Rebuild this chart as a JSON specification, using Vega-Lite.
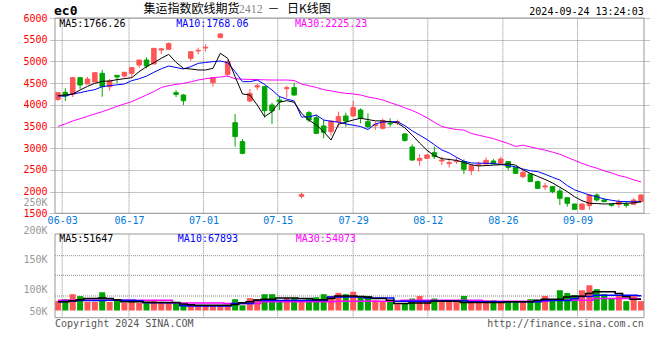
{
"$schema":"https://vega.github.io/schema/vega-lite/v6.json",
"width":599,"height":300,
"autosize":"none",
"padding":{"left":50,"top":18,"right":11,"bottom":42},
"background":"white",
"config":{"view":{"stroke":null},"axis":{"labelFont":"DejaVu Sans Mono","labelFontSize":10},"text":{"font":"DejaVu Sans Mono","fontSize":10,"baseline":"middle"}},
"datasets":{
"k":[
{"i":0,"d":"05-31","o":4126,"h":4290,"l":4088,"c":4279,"v":43000,"m5":4210,"m10":4203,"m30":3500,"vm5":40000,"vm10":40000,"vm30":47000},
{"i":1,"d":"06-03","o":4287,"h":4379,"l":4088,"c":4203,"v":52000,"m5":4226,"m10":4200,"m30":3560,"vm5":40000,"vm10":42000,"vm30":47000},
{"i":2,"d":"06-04","o":4241,"h":4640,"l":4180,"c":4625,"v":75000,"m5":4249,"m10":4250,"m30":3627,"vm5":45000,"vm10":44000,"vm30":47000},
{"i":3,"d":"06-05","o":4625,"h":4630,"l":4364,"c":4456,"v":66000,"m5":4341,"m10":4280,"m30":3680,"vm5":50000,"vm10":46000,"vm30":47000},
{"i":4,"d":"06-06","o":4479,"h":4640,"l":4479,"c":4594,"v":40000,"m5":4425,"m10":4318,"m30":3734,"vm5":55000,"vm10":46000,"vm30":47000},
{"i":5,"d":"06-07","o":4525,"h":4748,"l":4525,"c":4740,"v":40000,"m5":4495,"m10":4350,"m30":3790,"vm5":55000,"vm10":46000,"vm30":47000},
{"i":6,"d":"06-11","o":4725,"h":4802,"l":4187,"c":4418,"v":84000,"m5":4541,"m10":4418,"m30":3842,"vm5":58000,"vm10":46000,"vm30":47000},
{"i":7,"d":"06-12","o":4418,"h":4594,"l":4326,"c":4548,"v":40000,"m5":4548,"m10":4440,"m30":3900,"vm5":55000,"vm10":47000,"vm30":47000},
{"i":8,"d":"06-13","o":4679,"h":4679,"l":4495,"c":4640,"v":47000,"m5":4579,"m10":4460,"m30":3965,"vm5":50000,"vm10":47000,"vm30":47000},
{"i":9,"d":"06-14","o":4664,"h":4760,"l":4625,"c":4748,"v":35000,"m5":4602,"m10":4480,"m30":4020,"vm5":40000,"vm10":47000,"vm30":47000},
{"i":10,"d":"06-17","o":4725,"h":4856,"l":4625,"c":4856,"v":40000,"m5":4625,"m10":4556,"m30":4072,"vm5":40000,"vm10":47000,"vm30":47000},
{"i":11,"d":"06-18","o":4917,"h":5032,"l":4856,"c":5032,"v":35000,"m5":4763,"m10":4600,"m30":4150,"vm5":40000,"vm10":45000,"vm30":47000},
{"i":12,"d":"06-19","o":5032,"h":5094,"l":4840,"c":4894,"v":40000,"m5":4879,"m10":4660,"m30":4226,"vm5":38000,"vm10":36000,"vm30":47000},
{"i":13,"d":"06-20","o":4940,"h":5301,"l":4940,"c":5301,"v":47000,"m5":4971,"m10":4750,"m30":4303,"vm5":37000,"vm10":36000,"vm30":47000},
{"i":14,"d":"06-21","o":5262,"h":5302,"l":5170,"c":5290,"v":40000,"m5":5071,"m10":4830,"m30":4400,"vm5":37000,"vm10":36000,"vm30":47000},
{"i":15,"d":"06-24","o":5279,"h":5440,"l":5279,"c":5410,"v":35000,"m5":5163,"m10":4894,"m30":4440,"vm5":37000,"vm10":36000,"vm30":47000},
{"i":16,"d":"06-25","o":4279,"h":4340,"l":4180,"c":4240,"v":35000,"m5":4978,"m10":4860,"m30":4470,"vm5":37000,"vm10":36000,"vm30":35000},
{"i":17,"d":"06-26","o":4226,"h":4250,"l":3995,"c":4095,"v":29000,"m5":4840,"m10":4825,"m30":4495,"vm5":30000,"vm10":22000,"vm30":35000},
{"i":18,"d":"06-27","o":5071,"h":5224,"l":5010,"c":5224,"v":29000,"m5":4825,"m10":4880,"m30":4530,"vm5":26000,"vm10":21000,"vm30":35000},
{"i":19,"d":"06-28","o":5240,"h":5315,"l":5163,"c":5255,"v":24000,"m5":4802,"m10":4955,"m30":4571,"vm5":24000,"vm10":21000,"vm30":35000},
{"i":20,"d":"07-01","o":5310,"h":5393,"l":5224,"c":5325,"v":24000,"m5":4802,"m10":4975,"m30":4600,"vm5":24000,"vm10":21000,"vm30":35000},
{"i":21,"d":"07-02","o":4510,"h":4625,"l":4418,"c":4625,"v":24000,"m5":4840,"m10":4994,"m30":4625,"vm5":24000,"vm10":21000,"vm30":35000},
{"i":22,"d":"07-03","o":5547,"h":5654,"l":5547,"c":5631,"v":24000,"m5":5186,"m10":5009,"m30":4640,"vm5":24000,"vm10":21000,"vm30":35000},
{"i":23,"d":"07-04","o":4702,"h":5032,"l":4648,"c":4994,"v":24000,"m5":5071,"m10":4971,"m30":4664,"vm5":24000,"vm10":21000,"vm30":32000},
{"i":24,"d":"07-05","o":3588,"h":3788,"l":3035,"c":3266,"v":52000,"m5":4648,"m10":4763,"m30":4600,"vm5":28000,"vm10":32000,"vm30":32000},
{"i":25,"d":"07-08","o":3151,"h":3212,"l":2859,"c":2882,"v":24000,"m5":4249,"m10":4533,"m30":4590,"vm5":36000,"vm10":32000,"vm30":32000},
{"i":26,"d":"07-09","o":4088,"h":4364,"l":4057,"c":4264,"v":57000,"m5":4226,"m10":4533,"m30":4585,"vm5":40000,"vm10":32000,"vm30":32000},
{"i":27,"d":"07-10","o":4410,"h":4490,"l":4340,"c":4440,"v":52000,"m5":3995,"m10":4571,"m30":4580,"vm5":48000,"vm10":46000,"vm30":32000},
{"i":28,"d":"07-11","o":4418,"h":4440,"l":3704,"c":3865,"v":75000,"m5":3727,"m10":4470,"m30":4575,"vm5":52000,"vm10":46000,"vm30":40000},
{"i":29,"d":"07-12","o":3995,"h":4049,"l":3558,"c":3857,"v":75000,"m5":3842,"m10":4340,"m30":4571,"vm5":52000,"vm10":46000,"vm30":40000},
{"i":30,"d":"07-15","o":4111,"h":4203,"l":3880,"c":4072,"v":47000,"m5":4060,"m10":4190,"m30":4571,"vm5":58000,"vm10":46000,"vm30":40000},
{"i":31,"d":"07-16","o":4372,"h":4441,"l":4164,"c":4395,"v":57000,"m5":4095,"m10":4130,"m30":4571,"vm5":58000,"vm10":46000,"vm30":40000},
{"i":32,"d":"07-17","o":4395,"h":4510,"l":4203,"c":4226,"v":57000,"m5":4057,"m10":4090,"m30":4560,"vm5":58000,"vm10":46000,"vm30":40000},
{"i":33,"d":"07-18","o":1892,"h":1975,"l":1845,"c":1930,"v":40000,"m5":3803,"m10":3720,"m30":4480,"vm5":55000,"vm10":46000,"vm30":40000},
{"i":34,"d":"07-19","o":3819,"h":3857,"l":3596,"c":3650,"v":57000,"m5":3650,"m10":3720,"m30":4440,"vm5":55000,"vm10":46000,"vm30":40000},
{"i":35,"d":"07-22","o":3704,"h":3765,"l":3335,"c":3343,"v":61000,"m5":3535,"m10":3765,"m30":4400,"vm5":50000,"vm10":46000,"vm30":40000},
{"i":36,"d":"07-23","o":3512,"h":3650,"l":3227,"c":3366,"v":75000,"m5":3381,"m10":3650,"m30":4350,"vm5":50000,"vm10":46000,"vm30":40000},
{"i":37,"d":"07-24","o":3381,"h":3627,"l":3289,"c":3627,"v":67000,"m5":3189,"m10":3620,"m30":4320,"vm5":55000,"vm10":62000,"vm30":40000},
{"i":38,"d":"07-25","o":3611,"h":3842,"l":3496,"c":3727,"v":81000,"m5":3550,"m10":3600,"m30":4290,"vm5":67000,"vm10":62000,"vm30":43000},
{"i":39,"d":"07-26","o":3742,"h":3819,"l":3496,"c":3627,"v":75000,"m5":3600,"m10":3560,"m30":4264,"vm5":67000,"vm10":62000,"vm30":43000},
{"i":40,"d":"07-29","o":3742,"h":4088,"l":3727,"c":3934,"v":86000,"m5":3650,"m10":3530,"m30":4250,"vm5":67000,"vm10":62000,"vm30":43000},
{"i":41,"d":"07-30","o":3880,"h":3919,"l":3573,"c":3688,"v":67000,"m5":3690,"m10":3500,"m30":4226,"vm5":64000,"vm10":62000,"vm30":43000},
{"i":42,"d":"07-31","o":3611,"h":3803,"l":3458,"c":3496,"v":67000,"m5":3660,"m10":3430,"m30":4180,"vm5":62000,"vm10":58000,"vm30":43000},
{"i":43,"d":"08-01","o":3518,"h":3610,"l":3420,"c":3550,"v":47000,"m5":3630,"m10":3560,"m30":4150,"vm5":55000,"vm10":58000,"vm30":43000},
{"i":44,"d":"08-02","o":3458,"h":3680,"l":3430,"c":3634,"v":40000,"m5":3627,"m10":3600,"m30":4111,"vm5":55000,"vm10":58000,"vm30":43000},
{"i":45,"d":"08-05","o":3573,"h":3689,"l":3496,"c":3558,"v":47000,"m5":3610,"m10":3610,"m30":4050,"vm5":47000,"vm10":58000,"vm30":43000},
{"i":46,"d":"08-06","o":3596,"h":3657,"l":3535,"c":3611,"v":29000,"m5":3580,"m10":3610,"m30":3995,"vm5":32000,"vm10":43000,"vm30":43000},
{"i":47,"d":"08-07","o":3330,"h":3330,"l":3150,"c":3180,"v":32000,"m5":3470,"m10":3520,"m30":3930,"vm5":32000,"vm10":43000,"vm30":47000},
{"i":48,"d":"08-08","o":3028,"h":3089,"l":2705,"c":2728,"v":55000,"m5":3300,"m10":3400,"m30":3870,"vm5":35000,"vm10":43000,"vm30":47000},
{"i":49,"d":"08-09","o":2720,"h":2859,"l":2598,"c":2766,"v":67000,"m5":3120,"m10":3300,"m30":3790,"vm5":35000,"vm10":43000,"vm30":47000},
{"i":50,"d":"08-12","o":2766,"h":2866,"l":2751,"c":2843,"v":40000,"m5":2950,"m10":3200,"m30":3700,"vm5":35000,"vm10":43000,"vm30":47000},
{"i":51,"d":"08-13","o":2897,"h":3036,"l":2751,"c":2805,"v":55000,"m5":2830,"m10":3080,"m30":3600,"vm5":42000,"vm10":45000,"vm30":47000},
{"i":52,"d":"08-14","o":2705,"h":2805,"l":2613,"c":2728,"v":47000,"m5":2760,"m10":2960,"m30":3500,"vm5":42000,"vm10":45000,"vm30":47000},
{"i":53,"d":"08-15","o":2644,"h":2767,"l":2552,"c":2667,"v":47000,"m5":2740,"m10":2890,"m30":3460,"vm5":42000,"vm10":45000,"vm30":47000},
{"i":54,"d":"08-16","o":2690,"h":2790,"l":2636,"c":2713,"v":40000,"m5":2720,"m10":2790,"m30":3430,"vm5":42000,"vm10":45000,"vm30":47000},
{"i":55,"d":"08-19","o":2690,"h":2744,"l":2406,"c":2513,"v":67000,"m5":2670,"m10":2700,"m30":3419,"vm5":37000,"vm10":45000,"vm30":47000},
{"i":56,"d":"08-20","o":2482,"h":2598,"l":2383,"c":2598,"v":47000,"m5":2620,"m10":2660,"m30":3340,"vm5":37000,"vm10":40000,"vm30":47000},
{"i":57,"d":"08-21","o":2613,"h":2690,"l":2459,"c":2628,"v":47000,"m5":2590,"m10":2655,"m30":3300,"vm5":37000,"vm10":40000,"vm30":47000},
{"i":58,"d":"08-22","o":2636,"h":2790,"l":2636,"c":2720,"v":47000,"m5":2600,"m10":2652,"m30":3260,"vm5":37000,"vm10":40000,"vm30":43000},
{"i":59,"d":"08-23","o":2705,"h":2751,"l":2636,"c":2636,"v":47000,"m5":2610,"m10":2650,"m30":3220,"vm5":37000,"vm10":40000,"vm30":43000},
{"i":60,"d":"08-26","o":2651,"h":2805,"l":2651,"c":2751,"v":40000,"m5":2620,"m10":2625,"m30":3165,"vm5":37000,"vm10":40000,"vm30":43000},
{"i":61,"d":"08-27","o":2690,"h":2690,"l":2498,"c":2559,"v":40000,"m5":2640,"m10":2600,"m30":3110,"vm5":40000,"vm10":40000,"vm30":43000},
{"i":62,"d":"08-28","o":2559,"h":2559,"l":2406,"c":2421,"v":40000,"m5":2610,"m10":2570,"m30":3040,"vm5":40000,"vm10":40000,"vm30":43000},
{"i":63,"d":"08-29","o":2344,"h":2482,"l":2306,"c":2444,"v":40000,"m5":2500,"m10":2520,"m30":3070,"vm5":40000,"vm10":40000,"vm30":43000},
{"i":64,"d":"08-30","o":2406,"h":2406,"l":2229,"c":2229,"v":52000,"m5":2420,"m10":2480,"m30":3030,"vm5":40000,"vm10":40000,"vm30":43000},
{"i":65,"d":"09-02","o":2229,"h":2252,"l":2060,"c":2075,"v":40000,"m5":2350,"m10":2460,"m30":2990,"vm5":47000,"vm10":40000,"vm30":43000},
{"i":66,"d":"09-03","o":2107,"h":2206,"l":2037,"c":2130,"v":67000,"m5":2280,"m10":2400,"m30":2955,"vm5":52000,"vm10":46000,"vm30":43000},
{"i":67,"d":"09-04","o":2114,"h":2114,"l":1960,"c":1999,"v":52000,"m5":2200,"m10":2330,"m30":2910,"vm5":52000,"vm10":46000,"vm30":47000},
{"i":68,"d":"09-05","o":2014,"h":2075,"l":1691,"c":1845,"v":93000,"m5":2100,"m10":2267,"m30":2860,"vm5":52000,"vm10":46000,"vm30":47000},
{"i":69,"d":"09-06","o":1860,"h":1860,"l":1653,"c":1730,"v":80000,"m5":2000,"m10":2140,"m30":2790,"vm5":62000,"vm10":46000,"vm30":47000},
{"i":70,"d":"09-09","o":1714,"h":1714,"l":1576,"c":1592,"v":71000,"m5":1880,"m10":2040,"m30":2720,"vm5":66000,"vm10":55000,"vm30":47000},
{"i":71,"d":"09-10","o":1592,"h":1714,"l":1576,"c":1714,"v":93000,"m5":1790,"m10":1980,"m30":2650,"vm5":66000,"vm10":64000,"vm30":47000},
{"i":72,"d":"09-11","o":1676,"h":1937,"l":1576,"c":1922,"v":116000,"m5":1730,"m10":1922,"m30":2590,"vm5":78000,"vm10":64000,"vm30":47000},
{"i":73,"d":"09-12","o":1922,"h":1960,"l":1768,"c":1807,"v":98000,"m5":1725,"m10":1880,"m30":2540,"vm5":86000,"vm10":70000,"vm30":55000},
{"i":74,"d":"09-13","o":1807,"h":1845,"l":1753,"c":1768,"v":75000,"m5":1714,"m10":1830,"m30":2480,"vm5":86000,"vm10":70000,"vm30":55000},
{"i":75,"d":"09-18","o":1707,"h":1730,"l":1653,"c":1684,"v":57000,"m5":1720,"m10":1800,"m30":2430,"vm5":86000,"vm10":70000,"vm30":55000},
{"i":76,"d":"09-19","o":1707,"h":1822,"l":1630,"c":1768,"v":67000,"m5":1730,"m10":1775,"m30":2370,"vm5":78000,"vm10":70000,"vm30":55000},
{"i":77,"d":"09-20","o":1707,"h":1768,"l":1630,"c":1684,"v":43000,"m5":1730,"m10":1770,"m30":2330,"vm5":63000,"vm10":70000,"vm30":55000},
{"i":78,"d":"09-23","o":1707,"h":1845,"l":1691,"c":1807,"v":71000,"m5":1740,"m10":1765,"m30":2270,"vm5":52000,"vm10":70000,"vm30":55000},
{"i":79,"d":"09-24","o":1768,"h":1937,"l":1753,"c":1922,"v":43000,"m5":1766.26,"m10":1768.06,"m30":2225.23,"vm5":51647,"vm10":67893,"vm30":54073}
]
},
"data":{"name":"k"},
"encoding":{
"x":{"field":"i","type":"quantitative",
"scale":{"domain":[-0.4,79.4],"nice":false,"zero":false},
"axis":{"orient":"bottom","offset":-105,"values":[0.57,9.63,19.71,29.78,39.99,50.11,60.28,70.4],"tickCount":20,
"labelExpr":"['06-03','06-17','07-01','07-15','07-29','08-12','08-26','09-09'][round(datum.value/10)]",
"grid":false,"domain":false,"ticks":false,"title":null,"labelColor":"#0078d7","labelPadding":2,"labelFlush":false,"labelOverlap":false,"labelBaseline":"top"}}
},
"layer":[
{
"layer":[
{"transform":[{"filter":"datum.i == 0"}],"mark":{"type":"rule","color":"#888","strokeDash":[1,1]},"encoding":{"x":{"datum":0.57},"y":{"datum":1500},"y2":{"datum":6000}}},
{"transform":[{"filter":"datum.i == 0"}],"mark":{"type":"rule","color":"#888","strokeDash":[1,1]},"encoding":{"x":{"datum":9.63},"y":{"datum":1500},"y2":{"datum":6000}}},
{"transform":[{"filter":"datum.i == 0"}],"mark":{"type":"rule","color":"#888","strokeDash":[1,1]},"encoding":{"x":{"datum":19.71},"y":{"datum":1500},"y2":{"datum":6000}}},
{"transform":[{"filter":"datum.i == 0"}],"mark":{"type":"rule","color":"#888","strokeDash":[1,1]},"encoding":{"x":{"datum":29.78},"y":{"datum":1500},"y2":{"datum":6000}}},
{"transform":[{"filter":"datum.i == 0"}],"mark":{"type":"rule","color":"#888","strokeDash":[1,1]},"encoding":{"x":{"datum":39.99},"y":{"datum":1500},"y2":{"datum":6000}}},
{"transform":[{"filter":"datum.i == 0"}],"mark":{"type":"rule","color":"#888","strokeDash":[1,1]},"encoding":{"x":{"datum":50.11},"y":{"datum":1500},"y2":{"datum":6000}}},
{"transform":[{"filter":"datum.i == 0"}],"mark":{"type":"rule","color":"#888","strokeDash":[1,1]},"encoding":{"x":{"datum":60.28},"y":{"datum":1500},"y2":{"datum":6000}}},
{"transform":[{"filter":"datum.i == 0"}],"mark":{"type":"rule","color":"#888","strokeDash":[1,1]},"encoding":{"x":{"datum":70.4},"y":{"datum":1500},"y2":{"datum":6000}}},
{"mark":{"type":"rule","strokeWidth":1},
"encoding":{
"y":{"field":"h","type":"quantitative","scale":{"domain":[1500,6000],"range":[195.3,0],"nice":false,"zero":false},
"axis":{"values":[1500,2000,2500,3000,3500,4000,4500,5000,5500,6000],"tickCount":20,"format":"d","grid":true,"gridColor":"#888","gridDash":[1,1],"domain":false,"ticks":false,"title":null,"labelColor":"#ff0000","labelPadding":3,"labelFlush":false,"labelOverlap":false}},
"y2":{"field":"l"},
"color":{"condition":{"test":"datum.c >= datum.o","value":"#ff5555"},"value":"#00a400"}}},
{"mark":{"type":"bar","size":4.5,"strokeWidth":1},
"encoding":{"y":{"field":"o","type":"quantitative"},"y2":{"field":"c"},
"color":{"condition":{"test":"datum.c >= datum.o","value":"#ff5555"},"value":"#00a400"},
"stroke":{"condition":{"test":"datum.c >= datum.o","value":"#ff5555"},"value":"#00a400"}}},
{"mark":{"type":"line","color":"#ff00ff","strokeWidth":1},"encoding":{"y":{"field":"m30","type":"quantitative"}}},
{"mark":{"type":"line","color":"#0000ff","strokeWidth":1},"encoding":{"y":{"field":"m10","type":"quantitative"}}},
{"mark":{"type":"line","color":"#000000","strokeWidth":1},"encoding":{"y":{"field":"m5","type":"quantitative"}}},
{"transform":[{"filter":"datum.i == 0"}],"mark":{"type":"rect","filled":false,"color":"#999","strokeWidth":1},
"encoding":{"x":{"datum":-0.4},"x2":{"datum":79.4},"y":{"datum":1500},"y2":{"datum":6000}}},
{"transform":[{"filter":"datum.i == 0"}],"mark":{"type":"text","align":"left","fontWeight":"bold","fontSize":13,"color":"#000"},
"encoding":{"x":{"datum":-0.53},"y":{"datum":6150},"text":{"value":"ec0"}}},
{"transform":[{"filter":"datum.i == 0"}],"mark":{"type":"text","align":"left","font":"Noto Sans CJK SC","fontSize":12,"color":"#000"},
"encoding":{"x":{"datum":11.58},"y":{"datum":6196},"text":{"value":"集运指数欧线期货"}}},
{"transform":[{"filter":"datum.i == 0"}],"mark":{"type":"text","align":"left","font":"Liberation Serif","fontSize":12,"color":"#888"},
"encoding":{"x":{"datum":24.5},"y":{"datum":6196},"text":{"value":"2412"}}},
{"transform":[{"filter":"datum.i == 0"}],"mark":{"type":"text","align":"left","font":"Noto Sans CJK SC","fontSize":12,"color":"#000"},
"encoding":{"x":{"datum":28.4},"y":{"datum":6196},"text":{"value":"－"}}},
{"transform":[{"filter":"datum.i == 0"}],"mark":{"type":"text","align":"left","font":"Noto Sans CJK SC","fontSize":12,"color":"#000"},
"encoding":{"x":{"datum":31.02},"y":{"datum":6196},"text":{"value":"日K线图"}}},
{"transform":[{"filter":"datum.i == 0"}],"mark":{"type":"text","align":"right","color":"#000"},
"encoding":{"x":{"datum":79.36},"y":{"datum":6145},"text":{"value":"2024-09-24 13:24:03"}}},
{"transform":[{"filter":"datum.i == 0"}],"mark":{"type":"text","align":"left","color":"#000"},
"encoding":{"x":{"datum":0.17},"y":{"datum":5869},"text":{"value":"MA5:1766.26"}}},
{"transform":[{"filter":"datum.i == 0"}],"mark":{"type":"text","align":"left","color":"#0000ff"},
"encoding":{"x":{"datum":16.02},"y":{"datum":5869},"text":{"value":"MA10:1768.06"}}},
{"transform":[{"filter":"datum.i == 0"}],"mark":{"type":"text","align":"left","color":"#ff00ff"},
"encoding":{"x":{"datum":32.13},"y":{"datum":5869},"text":{"value":"MA30:2225.23"}}}
]
},
{
"layer":[
{"transform":[{"filter":"datum.i == 0"}],"mark":{"type":"rule","color":"#888","strokeDash":[1,1]},"encoding":{"x":{"datum":0.57},"y":{"datum":-33100},"y2":{"datum":351900}}},
{"transform":[{"filter":"datum.i == 0"}],"mark":{"type":"rule","color":"#888","strokeDash":[1,1]},"encoding":{"x":{"datum":9.63},"y":{"datum":-33100},"y2":{"datum":351900}}},
{"transform":[{"filter":"datum.i == 0"}],"mark":{"type":"rule","color":"#888","strokeDash":[1,1]},"encoding":{"x":{"datum":19.71},"y":{"datum":-33100},"y2":{"datum":351900}}},
{"transform":[{"filter":"datum.i == 0"}],"mark":{"type":"rule","color":"#888","strokeDash":[1,1]},"encoding":{"x":{"datum":29.78},"y":{"datum":-33100},"y2":{"datum":351900}}},
{"transform":[{"filter":"datum.i == 0"}],"mark":{"type":"rule","color":"#888","strokeDash":[1,1]},"encoding":{"x":{"datum":39.99},"y":{"datum":-33100},"y2":{"datum":351900}}},
{"transform":[{"filter":"datum.i == 0"}],"mark":{"type":"rule","color":"#888","strokeDash":[1,1]},"encoding":{"x":{"datum":50.11},"y":{"datum":-33100},"y2":{"datum":351900}}},
{"transform":[{"filter":"datum.i == 0"}],"mark":{"type":"rule","color":"#888","strokeDash":[1,1]},"encoding":{"x":{"datum":60.28},"y":{"datum":-33100},"y2":{"datum":351900}}},
{"transform":[{"filter":"datum.i == 0"}],"mark":{"type":"rule","color":"#888","strokeDash":[1,1]},"encoding":{"x":{"datum":70.4},"y":{"datum":-33100},"y2":{"datum":351900}}},
{"transform":[{"filter":"datum.i == 0"}],"mark":{"type":"rule","color":"#888","strokeDash":[1,1]},"encoding":{"x":{"datum":-0.4},"x2":{"datum":79.4},"y":{"datum":66700}}},
{"transform":[{"filter":"datum.i == 0"}],"mark":{"type":"rule","color":"#888","strokeDash":[1,1]},"encoding":{"x":{"datum":-0.4},"x2":{"datum":79.4},"y":{"datum":161900}}},
{"transform":[{"filter":"datum.i == 0"}],"mark":{"type":"rule","color":"#888","strokeDash":[1,1]},"encoding":{"x":{"datum":-0.4},"x2":{"datum":79.4},"y":{"datum":252100}}},
{"mark":{"type":"bar","size":6},
"encoding":{
"y":{"field":"v","type":"quantitative","scale":{"domain":[-33100,520000],"range":[299.7,179.45],"nice":false,"zero":false},
"axis":{"orient":"left","values":[497000,367000,233200,95200,-3200],"tickCount":20,
"labelExpr":"datum.value > 450000 ? '250K' : datum.value > 300000 ? '200K' : datum.value > 150000 ? '150K' : datum.value > 50000 ? '100K' : '50K'",
"grid":false,"domain":false,"ticks":false,"title":null,"labelColor":"#999","labelPadding":3,"labelFlush":false,"labelOverlap":false}},
"y2":{"datum":0},
"color":{"condition":{"test":"datum.c >= datum.o","value":"#ff5555"},"value":"#00a400"}}},
{"mark":{"type":"line","color":"#ff00ff","strokeWidth":1.5,"interpolate":"step"},"encoding":{"y":{"field":"vm30","type":"quantitative"}}},
{"mark":{"type":"line","color":"#0000ff","strokeWidth":1.5,"interpolate":"step"},"encoding":{"y":{"field":"vm10","type":"quantitative"}}},
{"mark":{"type":"line","color":"#000000","strokeWidth":1.5,"interpolate":"step"},"encoding":{"y":{"field":"vm5","type":"quantitative"}}},
{"transform":[{"filter":"datum.i == 0"}],"mark":{"type":"rect","filled":false,"color":"#999","strokeWidth":1},
"encoding":{"x":{"datum":-0.4},"x2":{"datum":79.4},"y":{"datum":-33100},"y2":{"datum":351900}}},
{"transform":[{"filter":"datum.i == 0"}],"mark":{"type":"text","align":"left","color":"#000"},
"encoding":{"x":{"datum":0.17},"y":{"datum":331000},"text":{"value":"MA5:51647"}}},
{"transform":[{"filter":"datum.i == 0"}],"mark":{"type":"text","align":"left","color":"#0000ff"},
"encoding":{"x":{"datum":16.24},"y":{"datum":331000},"text":{"value":"MA10:67893"}}},
{"transform":[{"filter":"datum.i == 0"}],"mark":{"type":"text","align":"left","color":"#ff00ff"},
"encoding":{"x":{"datum":32.22},"y":{"datum":331000},"text":{"value":"MA30:54073"}}},
{"transform":[{"filter":"datum.i == 0"}],"mark":{"type":"text","align":"left","color":"#555"},
"encoding":{"x":{"datum":-0.4},"y":{"datum":-59800},"text":{"value":"Copyright 2024 SINA.COM"}}},
{"transform":[{"filter":"datum.i == 0"}],"mark":{"type":"text","align":"right","color":"#555"},
"encoding":{"x":{"datum":79.36},"y":{"datum":-59800},"text":{"value":"http://finance.sina.com.cn"}}}
]
}
],
"resolve":{"scale":{"y":"independent"}}
}
